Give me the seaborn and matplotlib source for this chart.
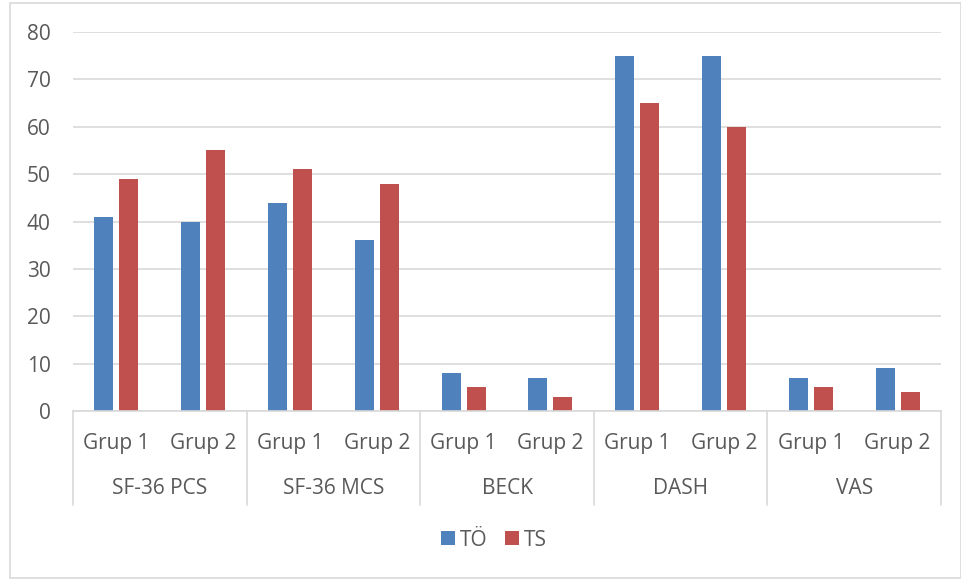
import matplotlib
matplotlib.use("Agg")
import matplotlib.pyplot as plt
import matplotlib.transforms as mtransforms
from matplotlib.patches import Rectangle, Patch
import seaborn as sns
import pandas as pd

categories = ["SF-36 PCS", "SF-36 MCS", "BECK", "DASH", "VAS"]
subgroups = ["Grup 1", "Grup 2"]
series = ["TÖ", "TS"]
to_values = [41, 40, 44, 36, 8, 7, 75, 75, 7, 9]
ts_values = [49, 55, 51, 48, 5, 3, 65, 60, 5, 4]
yticks = [0, 10, 20, 30, 40, 50, 60, 70, 80]
colors = ["#4F81BD", "#C0504D"]

sns.set_style("white")
plt.rcParams["font.family"] = ["Open Sans", "DejaVu Sans"]
text_color = "#595959"

slots = [f"{c}|{g}" for c in categories for g in subgroups]
df = pd.DataFrame({
    "slot": slots * 2,
    "series": [series[0]] * len(slots) + [series[1]] * len(slots),
    "value": to_values + ts_values,
})

fig = plt.figure(figsize=(9.62, 5.79), dpi=100)
ax = fig.add_axes([73 / 962, 1 - 411 / 579, (941 - 73) / 962, (411 - 32) / 579])

sns.barplot(data=df, x="slot", y="value", hue="series", order=slots,
            hue_order=series, palette=colors, width=0.576, gap=0.24,
            saturation=1, ax=ax, legend=False, errorbar=None, linewidth=0)

ax.set_xlim(-0.5, len(slots) - 0.5)
ax.set_ylim(0, 80)
ax.set_yticks(yticks)
ax.set_yticklabels([str(t) for t in yticks], fontsize=15, color=text_color)
ax.tick_params(axis="y", length=0, pad=16)
ax.set_xticks([])
ax.set_xlabel("")
ax.set_ylabel("")
for s in ["top", "right", "left"]:
    ax.spines[s].set_visible(False)
ax.spines["bottom"].set_color("#D9D9D9")
ax.spines["bottom"].set_linewidth(1.2)
ax.yaxis.grid(True, color="#D9D9D9", linewidth=1.2)
ax.set_axisbelow(True)

trans = mtransforms.blended_transform_factory(ax.transData, ax.transAxes)
h = 411 - 32
sep_bottom = -(505 - 411) / h
for k in range(len(categories) + 1):
    xb = -0.5 + 2 * k
    ax.plot([xb, xb], [0, sep_bottom], transform=trans, color="#D9D9D9",
            linewidth=1.2, clip_on=False)
for i, s in enumerate(slots):
    ax.text(i, -(443 - 411) / h, s.split("|")[1], transform=trans,
            ha="center", va="center", fontsize=15, color=text_color)
for k, c in enumerate(categories):
    ax.text(2 * k + 0.5, -(489 - 411) / h, c, transform=trans,
            ha="center", va="center", fontsize=15, color=text_color)

handles = [Patch(facecolor=colors[0], edgecolor="none", label=series[0]),
           Patch(facecolor=colors[1], edgecolor="none", label=series[1])]
leg = fig.legend(handles=handles, loc="center", bbox_to_anchor=(494 / 962, 1 - 540 / 579),
                 ncol=2, frameon=False, fontsize=15, handlelength=0.67,
                 handleheight=0.67, handletextpad=0.25, columnspacing=0.8)
for t in leg.get_texts():
    t.set_color(text_color)

fig.patches.append(Rectangle((10 / 962, 1 - 578 / 579), (961 - 10) / 962, (578 - 3) / 579,
                             transform=fig.transFigure, fill=False,
                             edgecolor="#D9D9D9", linewidth=1.2))

fig.savefig("out.png", dpi=100)
